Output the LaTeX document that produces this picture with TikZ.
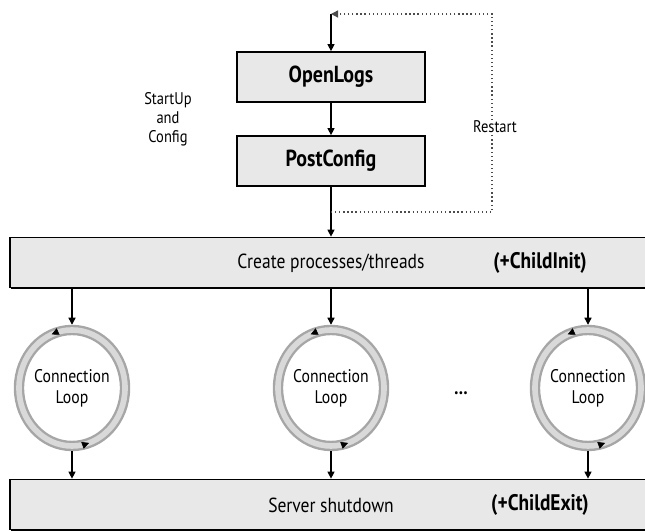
\documentclass[tikz,border=0pt]{standalone}
\usepackage{fontspec}
\setmainfont{PT Sans}[FakeStretch=0.86]
\usetikzlibrary{arrows.meta,shapes.geometric,shadows,decorations.markings}

\begin{document}
\begin{tikzpicture}[x=0.025cm, y=0.025cm,
  >={Triangle[length=5pt,width=5pt]},
  phase/.style={draw, line width=1.2pt, fill=gray!18,
    drop shadow={shadow xshift=0.6pt, shadow yshift=-0.9pt, opacity=1, fill=black},
    minimum width=4.7cm, minimum height=1.25cm, font=\bfseries\fontsize{16.5}{18}\selectfont},
  band/.style={phase, minimum width=16.25cm, minimum height=1.25cm},
  bandtext/.style={font=\fontsize{14.5}{16}\selectfont},
  hook/.style={font=\bfseries\fontsize{16}{18}\selectfont},
  loopnode/.style={ellipse, minimum width=2.65cm, minimum height=2.9cm, inner sep=0pt,
    align=center, font=\fontsize{13}{15}\selectfont},
  ring/.style={draw=gray!70, double=gray!30, double distance=4pt, line width=1.7pt},
  ringtips/.style={decorate, decoration={markings,
    mark=at position 0.31 with {\arrow[black]{Triangle[length=5pt,width=5pt]}},
    mark=at position 0.80 with {\arrow[black]{Triangle[length=5pt,width=5pt]}}}},
  note/.style={align=center, font=\fontsize{12}{13.5}\selectfont},
  flow/.style={->, line width=0.9pt},
  restart/.style={->, dotted, line width=0.9pt, draw=gray!60!black}]
\useasboundingbox (0,0) rectangle (645,531);

\node[phase] (open) at (331,454) {OpenLogs};
\node[phase] (post) at (331,370) {PostConfig};
\node[band] (create) at (335,268.5) {};
\node[bandtext] (createtxt) at (331,268) {Create processes/threads};
\node[hook] (childinit) at (540,268) {(+ChildInit)};
\node[band] (shut) at (335,26.5) {};
\node[bandtext] (shuttxt) at (331,26) {Server shutdown};
\node[hook] (childexit) at (540,26) {(+ChildExit)};

\path (331,517) coordinate (top)
      (331,319) coordinate (split)
      (492,319) coordinate (backlow)
      (492,517) coordinate (backtop);
\draw[flow] (top) -- (open);
\draw[flow] (open) -- (post);
\draw[flow] (post) -- (post |- create.north);
\draw[restart] (split) -- (backlow) -- (backtop) -- (top);
\node[note, fill=white, inner sep=1pt] (restartlbl) at (495,404) {Restart};
\node[note] (startup) at (168,412) {StartUp\\and\\Config};

\foreach \n/\x in {loopa/72, loopb/331, loopc/588} {
  \node[loopnode] (\n) at (\x,143) {Connection\\Loop};
  \draw[ring] (\n.center) ellipse (53 and 58);
  \path[ringtips] (\n.center) ellipse (53 and 58);
  \draw[flow, shorten >=3.5pt] (create.south -| \n) -- (\n.north);
  \draw[flow, shorten <=3.5pt] (\n.south) -- (shut.north -| \n);
}
\node[font=\bfseries\fontsize{14}{16}\selectfont] (dots) at (461,138) {\dots};
\end{tikzpicture}
\end{document}
